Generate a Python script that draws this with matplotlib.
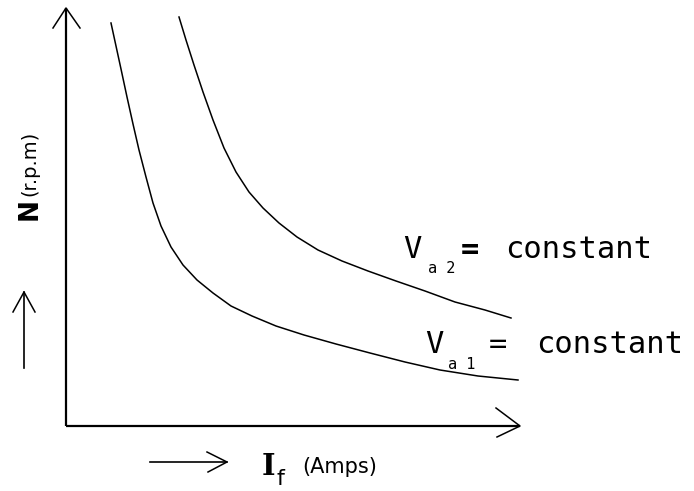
import matplotlib
matplotlib.use("Agg")
import matplotlib.pyplot as plt

# Curve data (x = field current, y = speed), origin at the axes corner
inner_x = [45, 50, 55, 61, 67, 73, 80, 87, 95, 105, 117, 131, 147, 165, 186, 210, 238, 270, 304, 339, 374, 412, 452]
inner_y = [403, 380, 357, 329, 302, 276, 249, 223, 200, 179, 161, 146, 133, 120, 110, 100, 91, 82, 73, 64, 56, 50, 46]
outer_x = [113, 120, 128, 137, 147, 158, 170, 183, 197, 213, 231, 252, 276, 302, 330, 359, 389, 419, 445]
outer_y = [409, 386, 361, 334, 306, 278, 254, 234, 218, 203, 189, 176, 165, 155, 145, 135, 124, 116, 108]

label_hi = "constant"
label_lo = "constant"

fig = plt.figure(figsize=(6.94, 4.91), dpi=100)
ax = fig.add_axes([0, 0, 1, 1])
ax.set_xlim(-66, 628)
ax.set_ylim(-65, 426)
ax.axis("off")

k = "black"
# axes with open arrowheads
ax.plot([0, 0], [0, 418], color=k, lw=1.6, solid_capstyle="butt")
ax.plot([-13, 0, 14], [398, 418, 398], color=k, lw=1.1)
ax.plot([0, 454], [0, 0], color=k, lw=1.6, solid_capstyle="butt")
ax.plot([430, 454, 431], [18, 0, -11], color=k, lw=1.1)

# curves
ax.plot(inner_x, inner_y, color=k, lw=1.1)
ax.plot(outer_x, outer_y, color=k, lw=1.1)

# side arrows
ax.plot([-42, -42], [58, 134], color=k, lw=1.2)
ax.plot([-53, -42, -31], [114, 134, 114], color=k, lw=1.1)
ax.plot([84, 161], [-36, -36], color=k, lw=1.2)
ax.plot([141, 161, 142], [-26, -36, -46], color=k, lw=1.1)

mono = "DejaVu Sans Mono"
# Va2 label
ax.text(337, 168, "V", fontsize=22, family=mono, ha="left", va="baseline")
ax.text(362, 153, "a 2", fontsize=11, family=mono, ha="left", va="baseline")
ax.text(395, 168, "=", fontsize=22, family=mono, fontweight="bold", ha="left", va="baseline")
ax.text(439, 168, label_hi, fontsize=22, family=mono, ha="left", va="baseline")
# Va1 label
ax.text(359, 73, "V", fontsize=22, family=mono, ha="left", va="baseline")
ax.text(382, 57, "a 1", fontsize=11, family=mono, ha="left", va="baseline")
ax.text(423, 73, "=", fontsize=22, family=mono, ha="left", va="baseline")
ax.text(470, 73, label_lo, fontsize=22, family=mono, ha="left", va="baseline")

# y label
ax.text(-29, 206, "N", fontsize=19, fontweight="bold", rotation=90,
        rotation_mode="anchor", ha="left", va="baseline")
ax.text(-31, 230, "(r.p.m)", fontsize=14, rotation=90,
        rotation_mode="anchor", ha="left", va="baseline")

# x label
ax.text(196, -49, "I", fontsize=21, family="DejaVu Serif", fontweight="bold",
        ha="left", va="baseline")
ax.text(211, -59, "f", fontsize=16, ha="left", va="baseline")
ax.text(236, -47, "(Amps)", fontsize=15, ha="left", va="baseline")

fig.savefig("out.png", dpi=100)
